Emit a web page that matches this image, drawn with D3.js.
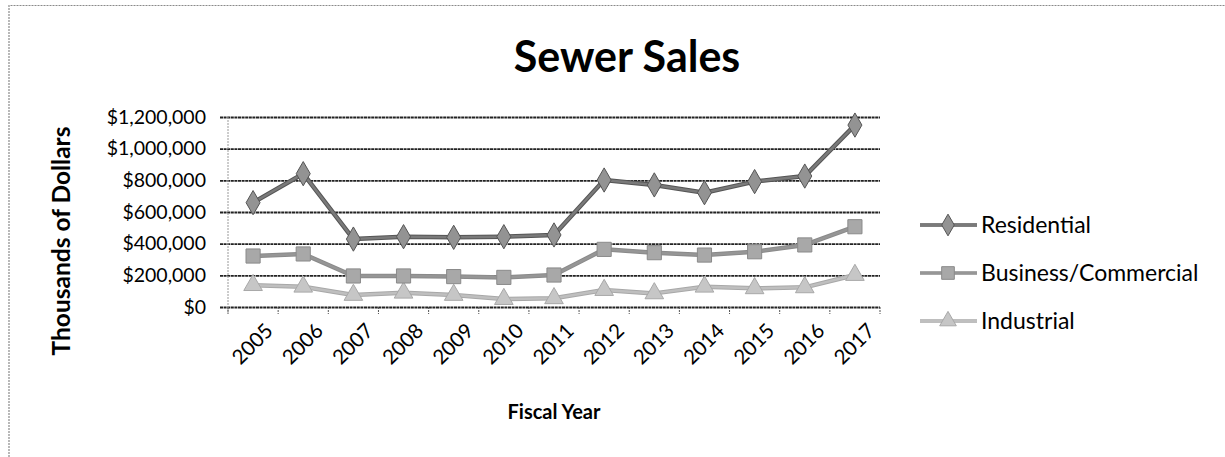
<!DOCTYPE html>
<html>
<head>
<meta charset="utf-8">
<script src="https://cdn.jsdelivr.net/npm/d3@7"></script>
<style>
  html, body { margin: 0; padding: 0; background: #fff; }
  svg { display: block; }
  text { font-family: Lato, "Open Sans", sans-serif; fill: #000; }
</style>
</head>
<body>
<svg id="chart" width="1225" height="457"></svg>
<script>
// Fiscal years and sewer sales by customer class (dollars)
const years = ["2005","2006","2007","2008","2009","2010","2011","2012","2013","2014","2015","2016","2017"];
const residential = [659000, 842000, 429000, 444000, 440000, 444000, 455000, 802000, 771000, 722000, 792000, 827000, 1149000];
const business    = [322000, 335000, 196000, 196000, 192000, 187000, 202000, 364000, 343000, 328000, 349000, 392000, 507000];
const industrial  = [138000, 128000, 76000, 90000, 76000, 50000, 55000, 107000, 86000, 128000, 118000, 124000, 202000];
const yTicks = [0, 200000, 400000, 600000, 800000, 1000000, 1200000];
const seriesNames = ["Residential", "Business/Commercial", "Industrial"];

const series = [
  { name: seriesNames[0], values: residential, line: "#7a7a7a", fill: "#939393", edge: "#555", symbol: d3.symbolDiamond, size: 170 },
  { name: seriesNames[1], values: business,    line: "#969696", fill: "#a8a8a8", edge: "#8a8a8a", symbol: d3.symbolSquare,  size: 200 },
  { name: seriesNames[2], values: industrial,  line: "#bfbfbf", fill: "#c6c6c6", edge: "#a8a8a8", symbol: d3.symbolTriangle, size: 150 }
];

const svg = d3.select("#chart");
const plot = { left: 228, right: 880, top: 117, bottom: 307 };

const x = d3.scaleBand().domain(years).range([plot.left, plot.right]).padding(0);
const y = d3.scaleLinear().domain([0, 1200000]).range([plot.bottom, plot.top]);

// Outer frame (top and left edges)
svg.append("path")
  .attr("d", `M9,457 L9,5.5 L1225,5.5`)
  .attr("fill", "none").attr("stroke", "#8a8a8a").attr("stroke-width", 1.2)
  .attr("stroke-dasharray", "2,1");

// Title
svg.append("text")
  .attr("x", 627).attr("y", 72)
  .attr("text-anchor", "middle")
  .attr("font-size", 43).attr("font-weight", "bold")
  .text("Sewer Sales");

// Horizontal gridlines with small outer ticks
const yAxis = d3.axisLeft(y)
  .tickValues(yTicks)
  .tickSize(-(plot.right - plot.left) - 8)
  .tickFormat(d => "$" + d3.format(",")(d));
const gy = svg.append("g")
  .attr("transform", `translate(${plot.left - 8},0)`)
  .call(yAxis);
gy.select(".domain").remove();
gy.selectAll(".tick line")
  .attr("stroke", "#222").attr("stroke-width", 1.8)
  .attr("stroke-dasharray", "3,0.6");
gy.selectAll(".tick text")
  .attr("x", -14)
  .attr("font-size", 19.5)
  .attr("font-family", "Lato, 'Open Sans', sans-serif");

// Vertical axis line
svg.append("line")
  .attr("x1", plot.left).attr("x2", plot.left)
  .attr("y1", plot.top).attr("y2", plot.bottom + 6)
  .attr("stroke", "#9a9a9a").attr("stroke-width", 1)
  .attr("stroke-dasharray", "2,1");

// Category axis: ticks between years, rotated labels
const bounds = years.map(d => x(d)).concat([plot.right]);
svg.append("g").selectAll("line")
  .data(bounds)
  .join("line")
  .attr("x1", d => d).attr("x2", d => d)
  .attr("y1", plot.bottom).attr("y2", plot.bottom + 7)
  .attr("stroke", "#555").attr("stroke-width", 1)
  .attr("stroke-dasharray", "2,1");

svg.append("g").selectAll("text")
  .data(years)
  .join("text")
  .attr("transform", d => `translate(${x(d) + x.bandwidth() / 2 + 11},${plot.bottom + 15}) rotate(-45)`)
  .attr("text-anchor", "end")
  .attr("dy", "0.7em")
  .attr("font-size", 20.5)
  .text(d => d);

// Axis titles
svg.append("text")
  .attr("x", (plot.left + plot.right) / 2).attr("y", 419)
  .attr("text-anchor", "middle")
  .attr("font-size", 20).attr("font-weight", "bold")
  .text("Fiscal Year");

svg.append("text")
  .attr("transform", `translate(70,241) rotate(-90)`)
  .attr("text-anchor", "middle")
  .attr("font-size", 24.5).attr("font-weight", "bold")
  .text("Thousands of Dollars");

// Series lines and markers
const line = d3.line()
  .x((d, i) => x(years[i]) + x.bandwidth() / 2)
  .y(d => y(d));

series.slice().reverse().forEach(s => {
  const g = svg.append("g");
  g.append("path")
    .attr("d", line(s.values))
    .attr("fill", "none")
    .attr("stroke", s.edge).attr("stroke-width", 4.5)
    .attr("stroke-linejoin", "round");
  g.append("path")
    .attr("d", line(s.values))
    .attr("fill", "none")
    .attr("stroke", s.line).attr("stroke-width", 2.5)
    .attr("stroke-linejoin", "round");
  g.selectAll("path.m")
    .data(s.values)
    .join("path")
    .attr("class", "m")
    .attr("d", d3.symbol().type(s.symbol).size(s.size))
    .attr("transform", (d, i) => `translate(${x(years[i]) + x.bandwidth() / 2},${y(d)})`)
    .attr("fill", s.fill).attr("stroke", s.edge).attr("stroke-width", 1);
});

// Legend
const legend = svg.append("g");
const legendY = [225, 273, 321];
series.forEach((s, i) => {
  const g = legend.append("g").attr("transform", `translate(0,${legendY[i]})`);
  g.append("line")
    .attr("x1", 920).attr("x2", 977)
    .attr("stroke", s.edge).attr("stroke-width", 3.5);
  g.append("line")
    .attr("x1", 920).attr("x2", 977)
    .attr("stroke", s.line).attr("stroke-width", 1.8);
  g.append("path")
    .attr("d", d3.symbol().type(s.symbol).size(s.size * 0.8))
    .attr("transform", "translate(948,0)")
    .attr("fill", s.fill).attr("stroke", s.edge).attr("stroke-width", 1);
  g.append("text")
    .attr("x", 981).attr("y", 0)
    .attr("dy", "0.35em")
    .attr("font-size", 23)
    .text(s.name);
});
</script>
</body>
</html>
